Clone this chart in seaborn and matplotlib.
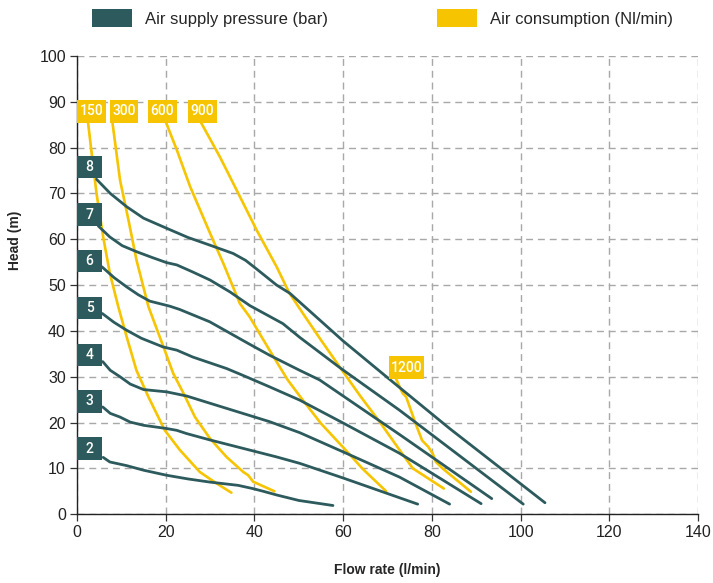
import matplotlib
matplotlib.use("Agg")
import matplotlib.pyplot as plt
from matplotlib.patches import Patch, Rectangle
import seaborn as sns
import pandas as pd

# ============================================================================
# Data
# ============================================================================

# air supply pressure curves (bar): flow rate (l/min) vs head (m)
p2_x = [5.9, 7.4, 11.2, 15.0, 20.2, 25.0, 30.0, 36.3, 39.6, 42.0, 45.0, 50.0, 57.7]
p2_y = [12.4, 11.4, 10.6, 9.6, 8.5, 7.7, 7.0, 6.3, 5.6, 5.0, 4.2, 3.0, 1.9]

p3_x = [5.8, 7.5, 9.7, 12.0, 15.0, 20.2, 22.5, 24.7, 30.0, 45.0, 50.2, 60.0, 76.8]
p3_y = [23.4, 22.0, 21.2, 20.1, 19.4, 18.7, 18.3, 17.6, 16.2, 12.5, 11.1, 7.9, 2.2]

p4_x = [5.8, 7.5, 9.7, 12.0, 15.0, 20.2, 24.7, 33.7, 43.4, 50.2, 60.0, 72.7, 84.0]
p4_y = [33.3, 31.4, 30.0, 28.4, 27.2, 26.7, 25.8, 23.1, 20.2, 17.8, 13.6, 8.1, 2.2]

p5_x = [5.7, 8.3, 11.1, 14.5, 19.4, 22.5, 26.1, 33.7, 37.4, 43.4, 50.2, 60.0, 72.7, 91.1]
p5_y = [43.8, 41.9, 40.2, 38.4, 36.5, 35.8, 34.3, 31.8, 30.3, 27.8, 24.9, 19.9, 13.3, 2.3]

p6_x = [5.6, 8.4, 11.2, 13.8, 16.4, 20.9, 23.1, 29.9, 38.9, 43.4, 50.2, 54.7, 72.7, 93.5]
p6_y = [54.0, 51.6, 49.6, 47.9, 46.5, 45.4, 44.7, 42.0, 37.1, 34.7, 31.4, 29.3, 17.4, 3.4]

p7_x = [4.8, 7.4, 10.2, 13.4, 17.0, 20.2, 22.5, 26.0, 30.0, 34.5, 39.0, 46.4, 50.2, 59.5, 72.7, 100.6]
p7_y = [62.9, 60.5, 58.6, 57.3, 56.0, 54.9, 54.4, 52.9, 51.1, 48.5, 45.5, 41.6, 38.6, 31.8, 22.7, 2.2]

p8_x = [4.4, 7.5, 11.2, 15.0, 20.2, 25.0, 30.0, 35.2, 38.0, 40.5, 45.0, 48.0, 60.0, 70.0, 84.0, 105.5]
p8_y = [73.1, 70.0, 67.1, 64.6, 62.4, 60.4, 58.7, 56.9, 55.4, 53.5, 50.0, 48.2, 37.8, 29.8, 18.7, 2.5]

# air consumption curves (Nl/min)
c150_x = [2.5, 3.3, 4.4, 5.9, 7.4, 9.3, 11.2, 13.4, 16.1, 19.8, 23.2, 27.7, 31.5, 34.8]
c150_y = [85.4, 78.8, 70.0, 60.5, 52.6, 45.3, 38.7, 31.4, 25.6, 18.3, 14.0, 9.2, 6.7, 4.7]

c300_x = [8.0, 9.7, 11.6, 13.4, 16.1, 19.5, 21.7, 24.0, 26.6, 30.0, 33.7, 37.5, 38.6, 39.7, 44.5]
c300_y = [85.4, 72.9, 64.2, 55.5, 45.3, 36.5, 30.7, 26.4, 21.2, 16.5, 12.5, 9.2, 8.5, 7.1, 5.0]

c600_x = [20.1, 22.5, 25.5, 30.0, 33.0, 36.7, 38.9, 43.4, 47.5, 50.9, 55.0, 59.9, 64.5, 69.7]
c600_y = [85.4, 79.5, 71.5, 61.3, 54.7, 46.0, 43.1, 35.8, 29.3, 24.9, 19.8, 14.7, 9.8, 5.0]

c900_x = [28.0, 32.2, 36.0, 40.5, 45.0, 47.9, 51.5, 55.0, 59.9, 64.0, 68.2, 72.0, 75.7, 82.7]
c900_y = [85.4, 78.0, 70.7, 62.0, 54.0, 48.2, 43.0, 38.0, 31.2, 25.6, 20.2, 15.0, 10.0, 5.6]

c1200_x = [71.9, 73.4, 74.2, 76.4, 77.8, 79.2, 80.2, 80.9, 82.4, 88.8]
c1200_y = [29.6, 26.4, 25.6, 19.6, 16.1, 14.7, 13.2, 11.4, 10.0, 4.9]

pressure_curves = [(p2_x, p2_y), (p3_x, p3_y), (p4_x, p4_y), (p5_x, p5_y),
                   (p6_x, p6_y), (p7_x, p7_y), (p8_x, p8_y)]
consumption_curves = [(c150_x, c150_y), (c300_x, c300_y), (c600_x, c600_y),
                      (c900_x, c900_y), (c1200_x, c1200_y)]

# curve labels
pressure_labels = ["2", "3", "4", "5", "6", "7", "8"]
pressure_label_y = [14.3, 24.6, 34.8, 45.0, 55.2, 65.4, 75.8]
consumption_labels = ["150", "300", "600", "900", "1200"]
consumption_label_x = [3.3, 10.6, 19.2, 28.2, 74.3]
consumption_label_y = [87.9, 87.9, 87.9, 87.9, 32.0]

DARK = "#2d5b5d"
YELLOW = "#f6c400"

# ============================================================================
# Plot
# ============================================================================

sns.set_style("ticks")
plt.rcParams["font.family"] = ["Liberation Sans", "DejaVu Sans"]

fig = plt.figure(figsize=(7.13, 5.83), dpi=100)
ax = fig.add_axes([0.108, 0.118, 0.871, 0.786])

ax.set_xlim(0, 140)
ax.set_ylim(0, 100)
ax.set_xticks(range(0, 141, 20))
ax.set_yticks(range(0, 101, 10))

ax.grid(True, color="#a8a8a8", linestyle=(0, (5, 3.5)), linewidth=1.0)
ax.set_axisbelow(True)

for x, y in consumption_curves:
    df = pd.DataFrame({"flow": x, "head": y})
    sns.lineplot(data=df, x="flow", y="head", color=YELLOW, linewidth=1.9,
                 sort=False, estimator=None, ax=ax)

for x, y in pressure_curves:
    df = pd.DataFrame({"flow": x, "head": y})
    sns.lineplot(data=df, x="flow", y="head", color=DARK, linewidth=2.0,
                 sort=False, estimator=None, ax=ax)

# pressure labels (dark boxes)
for label, ly in zip(pressure_labels, pressure_label_y):
    ax.add_patch(Rectangle((0, ly - 2.45), 5.7, 4.9, facecolor=DARK,
                           edgecolor="none", zorder=5, clip_on=False))
    ax.text(2.85, ly, label, color="white", ha="center", va="center",
            fontsize=10, fontfamily="Roboto", fontweight="medium", zorder=6)

# consumption labels (yellow boxes)
for label, lx, ly in zip(consumption_labels, consumption_label_x, consumption_label_y):
    w = 6.5 if len(label) == 3 else 7.9
    ax.add_patch(Rectangle((lx - w / 2, ly - 2.5), w, 5.0, facecolor=YELLOW,
                           edgecolor="none", zorder=5, clip_on=False))
    ax.text(lx, ly, label, color="white", ha="center", va="center",
            fontsize=10, fontfamily="Roboto", fontweight="medium", zorder=6)

for side in ["top", "right"]:
    ax.spines[side].set_visible(False)
for side in ["left", "bottom"]:
    ax.spines[side].set_color("#222222")
    ax.spines[side].set_linewidth(1.0)

ax.tick_params(axis="both", labelsize=11.5, length=5, width=0.9,
               color="#333333", labelcolor="#222222", pad=3)

ax.set_xlabel("Flow rate (l/min)", fontsize=10, fontweight="bold", labelpad=16)
ax.set_ylabel("Head (m)", fontsize=10, fontweight="bold")
ax.yaxis.set_label_coords(-0.088, 0.597)

handles = [Patch(facecolor=DARK, edgecolor="none", label="Air supply pressure (bar)"),
           Patch(facecolor=YELLOW, edgecolor="none", label="Air consumption (Nl/min)")]
fig.legend(handles=handles, loc="center left", bbox_to_anchor=(0.129, 0.969),
           ncol=2, frameon=False, fontsize=12, handlelength=2.4,
           handleheight=1.35, handletextpad=0.8, columnspacing=6.5,
           borderpad=0, borderaxespad=0)

fig.savefig("out.png", dpi=100)
